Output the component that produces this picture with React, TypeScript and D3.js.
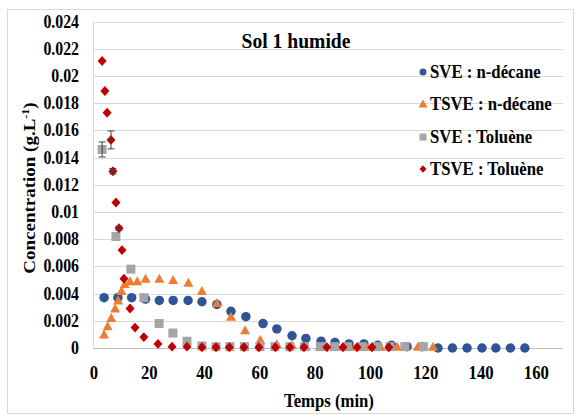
import React from "react";
import * as d3 from "d3";

// ---- data ----
const xTicks = [0, 20, 40, 60, 80, 100, 120, 140, 160];
const yTicks = [0, 0.002, 0.004, 0.006, 0.008, 0.01, 0.012, 0.014, 0.016, 0.018, 0.02, 0.022, 0.024];

const sveDecaneT = [4, 9, 14, 19, 24, 29, 34.4, 39.4, 44.8, 49.9, 55.3, 61.5, 66.5, 72, 77, 82.5, 87.5, 92.6, 98, 103, 108, 113.6, 119, 124.8, 130, 135.3, 140.7, 145.7, 151, 156.2];
const sveDecaneC = [0.0037, 0.0037, 0.0037, 0.0036, 0.0035, 0.0035, 0.0035, 0.0034, 0.0032, 0.0027, 0.0023, 0.0018, 0.0014, 0.0009, 0.0007, 0.0005, 0.0004, 0.0003, 0.0003, 0.0002, 0.0002, 0.0001, 0.0001, 0, 0, 0, 0, 0, 0, 0];

const tsveDecaneT = [4, 5.3, 6.6, 8, 9.1, 10.3, 11.5, 13.4, 16, 19, 24, 29, 34.5, 39.4, 44.8, 49.9, 55, 60.5, 66.5, 72, 77, 82, 88, 93, 99, 104, 110, 117.5, 123];
const tsveDecaneC = [0.001, 0.0016, 0.0022, 0.0029, 0.0035, 0.0042, 0.0047, 0.0049, 0.0049, 0.0051, 0.0051, 0.005, 0.0048, 0.0042, 0.0033, 0.0023, 0.0013, 0.0006, 0.0003, 0.0002, 0.0001, 0.0001, 0.0001, 0.0001, 0.0001, 0.0001, 0.0001, 0.0001, 0.0001];

const sveTolueneT = [3.3, 8.3, 13.7, 18.4, 23.9, 28.9, 34, 39.4, 44.5, 49.5, 54.8, 60.4, 65.8, 71.2, 76.5, 82.3, 87.3, 92, 97.3, 102.7, 107.4, 112.8, 119.5];
const sveTolueneC = [0.0146, 0.0082, 0.0058, 0.0037, 0.0018, 0.0011, 0.0005, 0.00015, 0.0001, 0.0001, 0.0001, 0.0001, 0.0001, 0.0001, 0.0001, 0.0001, 0.0001, 0.0001, 0.0001, 0.0001, 0.0001, 0.0001, 0.0001];
const sveTolueneErr = [0.00055, 0, 0, 0, 0, 0, 0, 0, 0, 0, 0, 0, 0, 0, 0, 0, 0, 0, 0, 0, 0, 0, 0];

const tsveTolueneT = [3.3, 4.3, 5.1, 6.5, 7.2, 8.3, 9.4, 10.5, 11.2, 13.4, 15.2, 18.4, 23.5, 28.6, 34, 39.4, 44.5, 49.3, 54.6, 60, 66, 71.2, 76.3, 84.6, 90.4, 95.5, 100.9, 107];
const tsveTolueneC = [0.0211, 0.0189, 0.0173, 0.0153, 0.013, 0.0107, 0.0088, 0.0072, 0.0051, 0.0029, 0.0015, 0.0008, 0.0003, 0.0001, 0.0001, 0.00005, 0.00005, 0.00005, 0.00005, 0.00005, 0.00005, 0.00005, 0.00005, 0.00005, 0.00005, 0.00005, 0.00005, 0.00005];
const tsveTolueneErr = [0, 0, 0, 0.00066, 0.0002, 0, 0.00015, 0, 0, 0, 0, 0, 0, 0, 0, 0, 0, 0, 0, 0, 0, 0, 0, 0, 0, 0, 0, 0];

const seriesNames = ["SVE : n-décane", "TSVE : n-décane", "SVE : Toluène", "TSVE : Toluène"];
const seriesColors = ["#2F5597", "#ED7D31", "#A5A5A5", "#C00000"];

const W = 578, H = 417;
const FONT = "'Liberation Serif', 'Times New Roman', serif";
const SX = 0.88;

const x = d3.scaleLinear().domain([0, 170]).range([93, 563]);
const y = d3.scaleLinear().domain([0, 0.024]).range([348, 21.6]);

function marker(kind: number, s: number): string {
  const h = s / 2;
  if (kind === 0) {
    const p = d3.path();
    p.arc(0, 0, h, 0, Math.PI * 2);
    return p.toString();
  }
  if (kind === 1) return `M0,${-h * 1.0}L${h},${h * 0.8}L${-h},${h * 0.8}Z`;
  if (kind === 2) return `M${-h},${-h}H${h}V${h}H${-h}Z`;
  return `M0,${-h * 1.1}L${h},0L0,${h * 1.1}L${-h},0Z`;
}

function T(props: { x: number; y: number; size: number; anchor?: string; sx?: number; children: any }) {
  const { x: tx, y: ty, size, anchor = "start", sx = SX, children } = props;
  return (
    <g transform={`translate(${tx},${ty}) scale(${sx},1)`}>
      <text textAnchor={anchor as any} fontFamily={FONT} fontWeight="bold" fontSize={size} fill="#000">
        {children}
      </text>
    </g>
  );
}

export default function App() {
  const series = [
    { t: sveDecaneT, c: sveDecaneC, e: sveDecaneT.map(() => 0) },
    { t: tsveDecaneT, c: tsveDecaneC, e: tsveDecaneT.map(() => 0) },
    { t: sveTolueneT, c: sveTolueneC, e: sveTolueneErr },
    { t: tsveTolueneT, c: tsveTolueneC, e: tsveTolueneErr },
  ];
  const sizes = [9.5, 10, 9, 9];
  const legendY = [72, 104, 137, 169];
  const legendSizes = [7, 9, 7, 7];
  return (
    <div style={{ position: "fixed", left: 0, top: 0 }}>
      <svg width={W} height={H} style={{ display: "block", background: "#fff" }}>
        <rect x={0} y={0} width={W} height={H} fill="#fff" />
        <rect x={7.5} y={9.5} width={566} height={404} fill="none" stroke="#d9d9d9" strokeWidth={1} />
        {/* gridlines */}
        {yTicks.map((v) => (
          <line key={"g" + v} x1={x(0)} x2={x(170)} y1={Math.round(y(v)) + 0.5} y2={Math.round(y(v)) + 0.5} stroke={v === 0 ? "#bfbfbf" : "#d9d9d9"} strokeWidth={1} />
        ))}
        <line x1={x(0) + 0.5} x2={x(0) + 0.5} y1={y(0.024)} y2={y(0)} stroke="#d9d9d9" />
        {/* y tick labels */}
        {yTicks.map((v) => (
          <T key={"yl" + v} x={79} y={y(v) + 6} size={18} anchor="end">
            {d3.format("")(+v.toFixed(3))}
          </T>
        ))}
        {/* x tick labels */}
        {xTicks.map((v) => (
          <T key={"xl" + v} x={x(v) + 1} y={379} size={19} anchor="middle">
            {String(v)}
          </T>
        ))}
        {/* axis titles */}
        <T x={329} y={407} size={19} anchor="middle">Temps (min)</T>
        <g transform={`translate(35,188) rotate(-90) scale(1,${SX})`}>
          <text textAnchor="middle" fontFamily={FONT} fontWeight="bold" fontSize={19}>
            Concentration (g.L<tspan dy={-7} fontSize={12}>-1</tspan><tspan dy={7}>)</tspan>
          </text>
        </g>
        {/* title */}
        <T x={296} y={48} size={20} anchor="middle" sx={0.98}>Sol 1 humide</T>
        {/* series */}
        {series.map((s, i) => (
          <g key={"s" + i}>
            {s.t.map((tv, j) => {
              const err = s.e[j];
              const cx = x(tv), cy = y(s.c[j]);
              return (
                <g key={j}>
                  <path d={marker(i, sizes[i])} transform={`translate(${cx},${cy})`} fill={seriesColors[i]} />
                  {err > 0 && (
                    <g stroke="#404040" strokeWidth={1}>
                      <line x1={cx} x2={cx} y1={y(s.c[j] - err)} y2={y(s.c[j] + err)} />
                      <line x1={cx - 3.5} x2={cx + 3.5} y1={y(s.c[j] - err)} y2={y(s.c[j] - err)} />
                      <line x1={cx - 3.5} x2={cx + 3.5} y1={y(s.c[j] + err)} y2={y(s.c[j] + err)} />
                    </g>
                  )}
                </g>
              );
            })}
          </g>
        ))}
        {/* legend */}
        {seriesNames.map((n, i) => (
          <g key={"lg" + i}>
            <path d={marker(i, legendSizes[i])} transform={`translate(423,${legendY[i]})`} fill={seriesColors[i]} />
            <T x={430} y={legendY[i] + 6} size={18} sx={0.93}>{n}</T>
          </g>
        ))}
      </svg>
    </div>
  );
}
